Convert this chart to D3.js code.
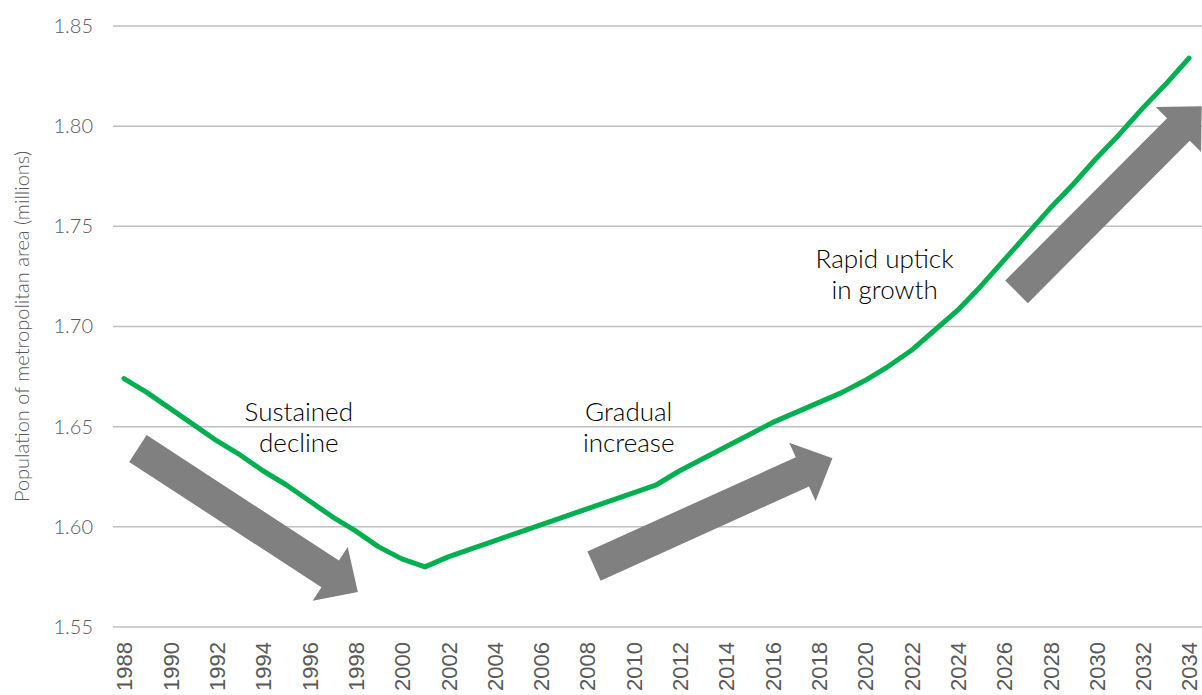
<!DOCTYPE html>
<html>
<head>
<meta charset="utf-8">
<script src="https://cdn.jsdelivr.net/npm/d3@7/dist/d3.min.js"></script>
<style>
  body { margin: 0; background: #fff; }
</style>
</head>
<body>
<div id="chart"></div>
<script>
// population of metro area, millions, one point per year
const years = [1988, 1989, 1990, 1991, 1992, 1993, 1994, 1995, 1996, 1997, 1998, 1999,
  2000, 2001, 2002, 2003, 2004, 2005, 2006, 2007, 2008, 2009, 2010, 2011,
  2012, 2013, 2014, 2015, 2016, 2017, 2018, 2019, 2020, 2021, 2022, 2023,
  2024, 2025, 2026, 2027, 2028, 2029, 2030, 2031, 2032, 2033, 2034];
const population = [1.674, 1.667, 1.659, 1.651, 1.643, 1.636, 1.628, 1.621, 1.613, 1.605, 1.598, 1.590,
  1.584, 1.580, 1.585, 1.589, 1.593, 1.597, 1.601, 1.605, 1.609, 1.613, 1.617, 1.621,
  1.628, 1.634, 1.640, 1.646, 1.652, 1.657, 1.662, 1.667, 1.673, 1.680, 1.688, 1.698,
  1.708, 1.720, 1.733, 1.746, 1.759, 1.771, 1.784, 1.796, 1.809, 1.821, 1.834];
const yTicks = [1.55, 1.60, 1.65, 1.70, 1.75, 1.80, 1.85];
const xTicks = [1988, 1990, 1992, 1994, 1996, 1998, 2000, 2002, 2004, 2006, 2008, 2010,
  2012, 2014, 2016, 2018, 2020, 2022, 2024, 2026, 2028, 2030, 2032, 2034];

// trend arrows: tail and tip as [year, value]
const arrowTails = [[1988.6, 1.6391], [2008.3, 1.5804], [2026.55, 1.7173]];
const arrowTips = [[1998.1, 1.5675], [2018.6, 1.6342], [2034.55, 1.8100]];

// annotation labels: [year, value] of first baseline
const noteLines = [['Sustained', 'decline'], ['Gradual', 'increase'], ['Rapid uptick', 'in growth']];
const notePos = [[1995.55, 1.6529], [2009.8, 1.6529], [2020.85, 1.7292]];

const W = 1202, H = 695;
const grey = '#595959';

const svg = d3.select('#chart').append('svg')
  .attr('width', W)
  .attr('height', H);

const x = d3.scaleLinear().domain([1988, 2034]).range([124, 1189]);
const y = d3.scaleLinear().domain([1.55, 1.85]).range([627, 26]);

// gridlines
svg.append('g')
  .selectAll('line')
  .data(yTicks)
  .join('line')
  .attr('x1', 113)
  .attr('x2', W)
  .attr('y1', d => y(d))
  .attr('y2', d => y(d))
  .attr('stroke', '#bfbfbf')
  .attr('stroke-width', 1.5);

// y axis labels
let yAxis = svg.append('g')
  .attr('transform', 'translate(100,0)')
  .call(d3.axisLeft(y).tickValues(yTicks).tickFormat(d3.format('.2f')).tickSize(0).tickPadding(7));
yAxis.select('.domain').remove();
yAxis.selectAll('text')
  .attr('font-family', 'Lato, sans-serif')
  .attr('font-weight', 300)
  .attr('font-size', '20px')
  .attr('fill', grey);

// x axis labels, rotated
let xAxis = svg.append('g')
  .attr('transform', 'translate(0,' + y(1.55) + ')')
  .call(d3.axisBottom(x).tickValues(xTicks).tickFormat(d3.format('d')).tickSize(0));
xAxis.select('.domain').remove();
xAxis.selectAll('text')
  .attr('font-family', '"Liberation Sans", Arial, sans-serif')
  .attr('font-size', '22px')
  .attr('fill', grey)
  .attr('text-anchor', 'end')
  .attr('transform', 'rotate(-90)')
  .attr('x', -15)
  .attr('y', 0)
  .attr('dy', '0.36em');

svg.append('text')
  .attr('transform', 'translate(29,' + ((y(1.55) + y(1.85)) / 2) + ') rotate(-90)')
  .attr('text-anchor', 'middle')
  .attr('font-family', 'Lato, sans-serif')
  .attr('font-weight', 300)
  .attr('font-size', '20px')
  .attr('fill', grey)
  .text('Population of metropolitan area (millions)');

// arrows
function arrowPath(t, p) {
  const x0 = x(t[0]), y0 = y(t[1]), x1 = x(p[0]), y1 = y(p[1]);
  const len = Math.hypot(x1 - x0, y1 - y0);
  const ux = (x1 - x0) / len, uy = (y1 - y0) / len;
  const nx = -uy, ny = ux;
  const sw = 16, hw = 32, hl = 33;
  const bx = x1 - ux * hl, by = y1 - uy * hl;
  const pts = [
    [x0 + nx * sw, y0 + ny * sw],
    [bx + nx * sw, by + ny * sw],
    [bx + nx * hw, by + ny * hw],
    [x1, y1],
    [bx - nx * hw, by - ny * hw],
    [bx - nx * sw, by - ny * sw],
    [x0 - nx * sw, y0 - ny * sw]
  ];
  return 'M' + pts.map(d => d.join(',')).join('L') + 'Z';
}

svg.append('g')
  .selectAll('path')
  .data(arrowTails)
  .join('path')
  .attr('d', (d, i) => arrowPath(d, arrowTips[i]))
  .attr('fill', '#808080');

// population line
const line = d3.line()
  .x((d, i) => x(years[i]))
  .y(d => y(d));

svg.append('path')
  .datum(population)
  .attr('d', line)
  .attr('fill', 'none')
  .attr('stroke', '#00b050')
  .attr('stroke-width', 5)
  .attr('stroke-linecap', 'round')
  .attr('stroke-linejoin', 'round');

// annotations
noteLines.forEach(function(lines, i) {
  let t = svg.append('text')
    .attr('font-family', 'Lato, sans-serif')
    .attr('font-weight', 300)
    .attr('font-size', '26px')
    .attr('fill', '#000')
    .attr('text-anchor', 'middle');
  lines.forEach(function(s, j) {
    t.append('tspan')
      .attr('x', x(notePos[i][0]))
      .attr('y', y(notePos[i][1]) + j * 31)
      .text(s);
  });
});
</script>
</body>
</html>
